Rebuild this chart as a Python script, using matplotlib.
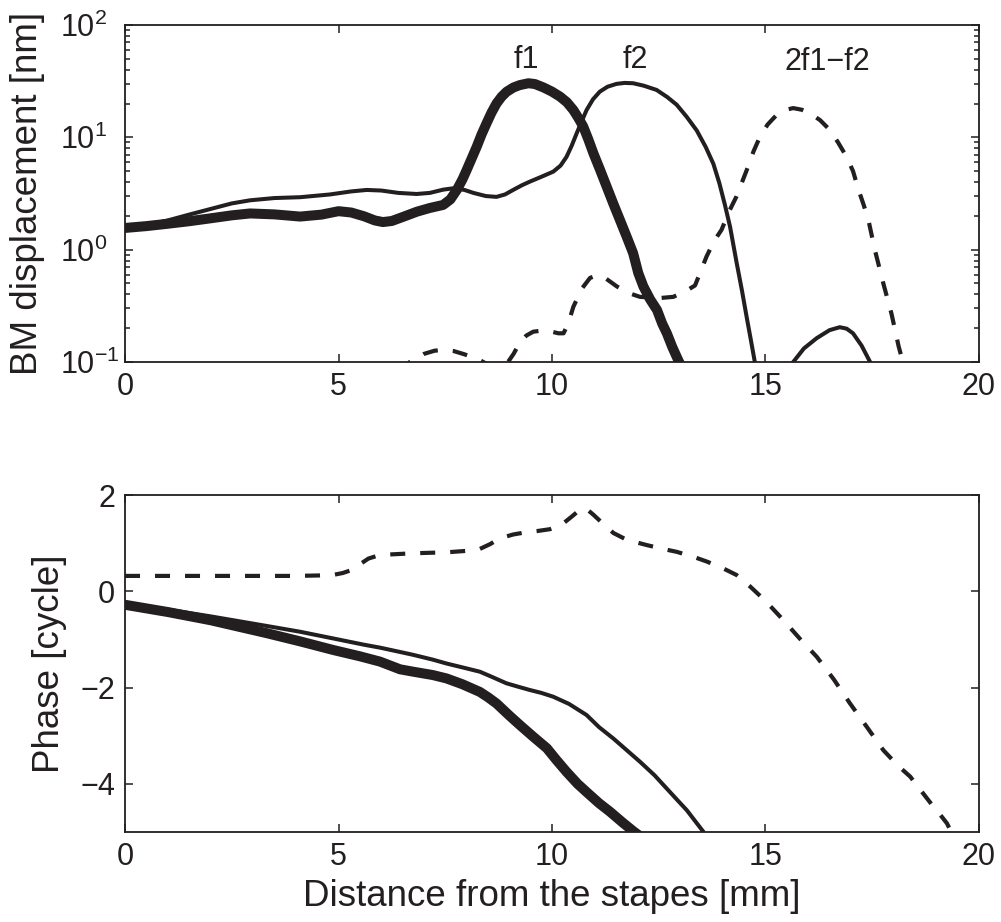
import numpy as np
import matplotlib
matplotlib.use("Agg")
from matplotlib import pyplot as plt

plt.rcParams['font.family'] = ['Liberation Sans', 'DejaVu Sans']
plt.rcParams['mathtext.fontset'] = 'custom'
plt.rcParams['mathtext.rm'] = 'Liberation Sans'
plt.rcParams['mathtext.it'] = 'Liberation Sans:italic'
plt.rcParams['mathtext.bf'] = 'Liberation Sans:bold'
plt.rcParams['axes.unicode_minus'] = True

ink = "#231f20"

# BM displacement amplitude [nm] vs distance from the stapes [mm]
amp_f1_x = [0, 0.5, 1.0, 1.5, 2.0, 2.5, 2.93, 3.5, 4.1, 4.6, 5.0, 5.3, 5.6, 5.85, 6.04, 6.25,
            6.5, 6.84, 7.14, 7.45, 7.62, 7.77, 7.9, 8.0, 8.12, 8.24, 8.35, 8.47, 8.58, 8.7,
            8.82, 8.94, 9.1, 9.25, 9.45, 9.6, 9.8, 10.0, 10.19, 10.35, 10.5, 10.62, 10.73,
            10.85, 10.97, 11.12, 11.28, 11.43, 11.59, 11.75, 11.9, 12.02, 12.14, 12.3, 12.46,
            12.58, 12.69, 12.82, 12.95, 13.1]
amp_f1_y = [1.56, 1.62, 1.70, 1.79, 1.90, 2.02, 2.10, 2.06, 1.97, 2.05, 2.20, 2.14, 1.98, 1.82, 1.76, 1.80,
            1.95, 2.18, 2.35, 2.5, 2.8, 3.4, 4.2, 5.1, 6.5, 8.3, 10.6, 13.4, 16.5, 20,
            23, 25.5, 27.8, 29.2, 30.3, 29.8, 27.8, 25.5, 23, 20.5, 17.5, 14.8, 12.5,
            9.6, 7.2, 5.2, 3.64, 2.6, 1.84, 1.3, 0.93, 0.62, 0.47, 0.36, 0.29,
            0.22, 0.18, 0.135, 0.105, 0.08]

amp_f2_x = [0, 0.5, 1.0, 1.5, 2.0, 2.5, 2.93, 3.5, 4.1, 4.8, 5.3, 5.66, 6.0, 6.4, 6.83, 7.14,
            7.45, 7.69, 7.95, 8.16, 8.45, 8.7, 8.9, 9.09, 9.3, 9.48, 9.75, 10.03, 10.2, 10.34,
            10.46, 10.58, 10.7, 10.81, 10.96, 11.12, 11.3, 11.51, 11.7, 11.9, 12.15, 12.45,
            12.7, 12.92, 13.15, 13.39, 13.6, 13.78, 13.92, 14.05, 14.17, 14.32, 14.45, 14.56,
            14.66, 14.75, 14.9, 15.2, 15.45, 15.65, 15.9, 16.2, 16.5, 16.74, 16.9, 17.05,
            17.25, 17.45, 17.65]
amp_f2_y = [1.55, 1.65, 1.82, 2.05, 2.3, 2.58, 2.75, 2.88, 2.93, 3.1, 3.3, 3.4, 3.36, 3.2, 3.13, 3.2,
            3.42, 3.52, 3.4, 3.2, 3.0, 2.95, 3.1, 3.4, 3.75, 4.03, 4.45, 4.95, 5.6, 6.7,
            8.4, 10.9, 14, 17.5, 21.8, 25.5, 28.2, 29.9, 30.5, 30.3, 28.8, 26.4,
            22.8, 19.5, 15.3, 11.5, 8.2, 5.8, 3.9, 2.5, 1.6, 0.78, 0.43, 0.25,
            0.155, 0.1, 0.065, 0.05, 0.065, 0.1, 0.132, 0.163, 0.192, 0.204, 0.198, 0.18,
            0.14, 0.1, 0.07]

amp_dp_x = [6.0, 6.35, 6.67, 7.0, 7.25, 7.45, 7.7, 7.95, 8.31, 8.6, 8.97, 9.1, 9.25, 9.4, 9.56,
            9.75, 9.95, 10.15, 10.27, 10.38, 10.5, 10.7, 10.89, 11.05, 11.2, 11.36, 11.52, 11.8,
            12.06, 12.5, 12.84, 13.1, 13.35, 13.62, 13.8, 13.97, 14.15, 14.32, 14.56, 14.72,
            14.87, 15.05, 15.26, 15.45, 15.65, 15.85, 16.04, 16.28, 16.51, 16.7, 16.9, 17.05,
            17.18, 17.3, 17.41, 17.56, 17.76, 17.95, 18.12, 18.25, 18.4]
amp_dp_y = [0.05, 0.075, 0.1, 0.118, 0.126, 0.128, 0.125, 0.117, 0.104, 0.09, 0.1, 0.118, 0.15, 0.172, 0.186,
            0.19, 0.188, 0.18, 0.18, 0.22, 0.31, 0.45, 0.56, 0.59, 0.575, 0.52, 0.47, 0.41,
            0.38, 0.37, 0.38, 0.42, 0.48, 0.87, 1.2, 1.5, 2.2, 2.97, 5.1, 7.5,
            10.1, 13, 15.8, 17.5, 18.2, 17.6, 16.4, 14.2, 11.6, 9.0, 6.7, 5.0,
            3.4, 2.5, 1.84, 1.0, 0.5, 0.27, 0.137, 0.09, 0.06]

# phase [cycle]
ph_f1_x = [0, 1, 2, 3.32, 4.1, 4.88, 5.5, 5.97, 6.44, 6.75, 7.21, 7.53, 7.9, 8.31, 8.5, 8.7,
           9.0, 9.25, 9.56, 9.88, 10.1, 10.34, 10.6, 10.81, 11.1, 11.36, 11.65, 11.9, 12.05]
ph_f1_y = [-0.28, -0.43, -0.6, -0.87, -1.04, -1.22, -1.35, -1.46, -1.62, -1.67, -1.74, -1.81, -1.93, -2.09, -2.2, -2.33,
           -2.58, -2.78, -3.02, -3.26, -3.5, -3.75, -4.0, -4.17, -4.4, -4.58, -4.8, -4.98, -5.08]

ph_f2_x = [0, 1, 2, 3.32, 4.1, 4.88, 5.6, 5.97, 6.44, 6.75, 7.21, 7.53, 7.9, 8.31, 8.6, 8.93,
           9.2, 9.48, 9.75, 10.03, 10.4, 10.81, 11.1, 11.44, 11.75, 12.06, 12.4, 12.69, 12.95,
           13.16, 13.35, 13.55]
ph_f2_y = [-0.25, -0.38, -0.52, -0.72, -0.84, -0.98, -1.11, -1.17, -1.26, -1.32, -1.42, -1.50, -1.58, -1.67, -1.78, -1.91,
           -1.98, -2.05, -2.11, -2.19, -2.34, -2.57, -2.82, -3.06, -3.30, -3.54, -3.82, -4.10, -4.35,
           -4.55, -4.77, -5.0]

ph_dp_x = [0, 1, 2, 3, 4, 4.6, 4.87, 5.1, 5.3, 5.5, 5.7, 5.97, 6.75, 7.53, 8.0, 8.31, 8.55,
           8.78, 9.09, 9.35, 9.64, 9.95, 10.22, 10.46, 10.7, 10.85, 10.97, 11.2, 11.44, 11.75,
           12.22, 12.6, 12.92, 13.3, 13.62, 14.0, 14.32, 14.64, 15.0, 15.42, 15.8, 16.2, 16.6,
           16.98, 17.4, 17.76, 18.1, 18.39, 18.65, 18.93, 19.1, 19.25, 19.35]
ph_dp_y = [0.32, 0.32, 0.32, 0.32, 0.32, 0.33, 0.34, 0.38, 0.44, 0.56, 0.68, 0.755, 0.79, 0.81, 0.84, 0.88, 0.98,
           1.10, 1.18, 1.22, 1.25, 1.29, 1.38, 1.55, 1.73, 1.68, 1.59, 1.40, 1.21, 1.07,
           0.96, 0.88, 0.82, 0.72, 0.62, 0.48, 0.34, 0.10, -0.2, -0.60, -0.98, -1.36, -1.83,
           -2.33, -2.85, -3.3, -3.62, -3.85, -4.15, -4.47, -4.65, -4.82, -5.0]

peak_labels = ["f1", "f2", "2f1\u2212f2"]
peak_label_x = [9.41, 11.94, 16.44]
peak_label_y = [41.5, 41.5, 40]

fig = plt.figure(figsize=(10.01, 9.22), dpi=100)
ax1 = fig.add_axes([0.1249, 0.6074, 0.8531, 0.3655])
ax2 = fig.add_axes([0.1249, 0.0976, 0.8531, 0.3655])

thick = dict(color=ink, lw=7.2, solid_capstyle="round", solid_joinstyle="round")
thin = dict(color=ink, lw=2.9, solid_capstyle="round", solid_joinstyle="round")
dash = dict(color=ink, lw=3.0, linestyle=(0, (3.6, 3.6)), dash_capstyle="butt")

ax1.plot(amp_f1_x, amp_f1_y, **thick)
ax1.plot(amp_f2_x, amp_f2_y, **thin)
ax1.plot(amp_dp_x, amp_dp_y, **dash)
ax1.set_yscale("log")
ax1.set_xlim(0, 20)
ax1.set_ylim(0.1, 100)
ax1.set_xticks([0, 5, 10, 15, 20])
ax1.set_ylabel("BM displacement [nm]", fontsize=26.5, color=ink, va="center")
ax1.yaxis.set_label_coords(-0.114, 0.5)
for lab, lx, ly in zip(peak_labels, peak_label_x, peak_label_y):
    ax1.text(lx, ly, lab, fontsize=22, color=ink, ha="center", va="baseline")

ax2.plot(ph_f1_x, ph_f1_y, **thick)
ax2.plot(ph_f2_x, ph_f2_y, **thin)
ax2.plot(ph_dp_x, ph_dp_y, **dash)
ax2.set_xlim(0, 20)
ax2.set_ylim(-5, 2)
ax2.set_xticks([0, 5, 10, 15, 20])
ax2.set_yticks([-4, -2, 0, 2])
ax2.set_ylabel("Phase [cycle]", fontsize=26.5, color=ink, va="center")
ax2.yaxis.set_label_coords(-0.088, 0.5)
ax2.set_xlabel("Distance from the stapes [mm]", fontsize=26.5, color=ink, va="center")
ax2.xaxis.set_label_coords(0.5, -0.19)

for ax in (ax1, ax2):
    for s in ax.spines.values():
        s.set_linewidth(1.3)
        s.set_color(ink)
    ax.tick_params(which="both", direction="in", top=True, right=True, colors=ink,
                   labelsize=22, width=1.1)
    ax.tick_params(which="major", length=6)
    ax.tick_params(which="minor", length=3.5)
    ax.tick_params(axis="x", pad=7.5)
    ax.tick_params(axis="y", pad=7)

# exponent labels start at the same x
for t in ax1.get_yticklabels():
    t.set_horizontalalignment("left")
ax1.tick_params(axis="y", which="major", pad=47)

fig.savefig("out.png", dpi=100)
